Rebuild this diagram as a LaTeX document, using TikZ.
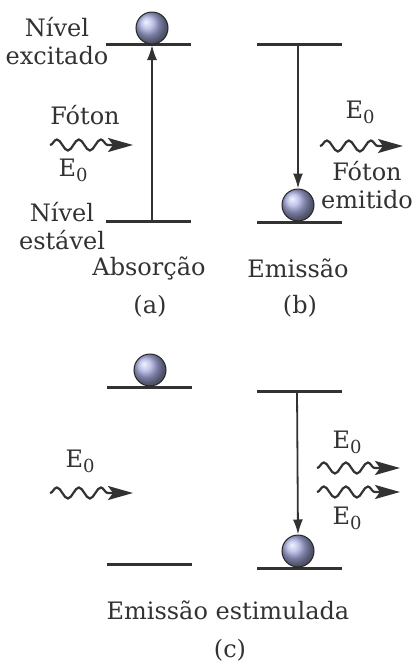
\documentclass[tikz,border=0pt]{standalone}
\usepackage{fontspec}
\setmainfont{DejaVu Serif}
\usetikzlibrary{arrows.meta, decorations.pathmorphing}

\definecolor{linegray}{RGB}{50,50,50}
\definecolor{ballblue}{RGB}{172,177,228}
\newcommand{\Ezero}{E\raisebox{-0.4ex}{\fontsize{18}{18}\selectfont 0}}

\tikzset{
  every node/.style={font=\fontsize{24}{28}\selectfont, text=linegray, inner sep=2pt},
  level/.style={line width=3pt, draw=linegray},
  trans/.style={line width=1.8pt, draw=linegray, -{Latex[length=15pt, width=10pt]}},
  photon/.style={line width=2.2pt, draw=linegray, decorate,
    decoration={snake, segment length=22pt, amplitude=5.5pt, post length=22pt},
    -{Stealth[length=25pt, width=14pt, inset=5pt]}},
  atom/.style={circle, draw=black!85, line width=1pt, minimum size=32pt,
    inner sep=0pt, shading=ball, ball color=ballblue},
}

\begin{document}
\begin{tikzpicture}[x=1pt, y=-1pt]
  \useasboundingbox (0,0) rectangle (414,662);

  % (a) absorcao
  \draw[level] (106,44) -- (191,44);
  \draw[level] (106,221) -- (191,221);
  \node[atom] (aBall) at (152,28) {};
  \coordinate (aLow) at (152,221);
  \coordinate (aUp) at (152,45);
  \draw[trans] (aLow) -- (aUp);
  \node[align=center] (excLbl) at (57,41) {Nível\\excitado};
  \node (fotA) at (85,115) {Fóton};
  \coordinate (aWs) at (50,145);
  \coordinate (aWe) at (133,145);
  \draw[photon] (aWs) -- (aWe);
  \node (eA) at (73,170) {\Ezero};
  \node[align=center] (estLbl) at (62,226) {Nível\\estável};
  \node (absLbl) at (149,268) {Absorção};
  \node (aTag) at (150,306) {(a)};

  % (b) emissao
  \draw[level] (257,44) -- (342,44);
  \draw[level] (257,222) -- (342,222);
  \node[atom] (bBall) at (298,205) {};
  \coordinate (bUp) at (298,44);
  \draw[trans] (bUp) -- (bBall.north);
  \node (eB) at (360,112) {\Ezero};
  \coordinate (bWs) at (320,146);
  \coordinate (bWe) at (403,146);
  \draw[photon] (bWs) -- (bWe);
  \node[align=center] (emiLbl) at (367,185) {Fóton\\emitido};
  \node (emLbl) at (298,268) {Emissão};
  \node (bTag) at (300,306) {(b)};

  % (c) emissao estimulada
  \draw[level] (107,387) -- (192,387);
  \draw[level] (107,564) -- (192,564);
  \node[atom] (cBallUp) at (150,370) {};
  \node (eC) at (80,461) {\Ezero};
  \coordinate (cWs) at (50,493);
  \coordinate (cWe) at (133,493);
  \draw[photon] (cWs) -- (cWe);

  \draw[level] (257,391) -- (342,391);
  \draw[level] (257,568) -- (342,568);
  \node[atom] (cBall) at (298,551) {};
  \coordinate (cUp) at (297,391);
  \draw[trans] (cUp) -- (cBall.north);
  \node (eC1) at (347,442) {\Ezero};
  \coordinate (cW1s) at (317,468);
  \coordinate (cW1e) at (400,468);
  \draw[photon] (cW1s) -- (cW1e);
  \coordinate (cW2s) at (317,492);
  \coordinate (cW2e) at (400,492);
  \draw[photon] (cW2s) -- (cW2e);
  \node (eC2) at (347,518) {\Ezero};
  \node (stimLbl) at (228,610) {Emissão estimulada};
  \node (cTag) at (230,650) {(c)};
\end{tikzpicture}
\end{document}
